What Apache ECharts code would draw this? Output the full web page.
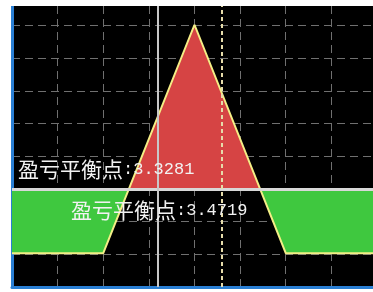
<!DOCTYPE html>
<html>
<head>
<meta charset="utf-8">
<script src="https://cdn.jsdelivr.net/npm/echarts@6/dist/echarts.min.js"></script>
<style>
html, body { margin: 0; padding: 0; background: #fff; }
#wrap { position: absolute; left: 0; top: 6px; width: 373px; height: 286px; overflow: hidden; }
#chart { position: absolute; left: 0; top: -13px; width: 377px; height: 299px; }
</style>
</head>
<body>
<div id="wrap"><div id="chart"></div></div>
<script>
// 标的价格 / 到期损益
var prices = [3.2, 3.3, 3.4, 3.5, 3.6];
var payoff = [-0.0281, -0.0281, 0.0719, -0.0281, -0.0281];
// 盈亏平衡点
var breakEven = [3.3281, 3.4719];
// 竖线：现价(实线)、参考价(点线)
var priceNow = 3.357;
var priceRef = 3.431;

var lineData = prices.map(function (p, i) { return [p, payoff[i]]; });

var labelRich = {
  a: { fontFamily: 'Noto Sans CJK SC', fontSize: 21, fill: '#f2f2f2' },
  b: { fontFamily: 'Liberation Mono', fontSize: 17, fill: '#f2f2f2' }
};

var chart = echarts.init(document.getElementById('chart'));
chart.setOption({
  animation: false,
  grid: {
    left: 12, right: 0, top: 0, bottom: 5,
    show: true, backgroundColor: '#000', borderWidth: 0
  },
  xAxis: {
    type: 'value', min: 3.2, max: 3.6, interval: 0.05,
    axisLine: { show: true, onZero: false, lineStyle: { color: '#2a7fd4', width: 3 } },
    axisTick: { show: false },
    axisLabel: { show: false },
    splitLine: { lineStyle: { color: '#707070', width: 1, type: [8, 5] } }
  },
  yAxis: {
    type: 'value', min: -0.0429, max: 0.0858, interval: 0.0143,
    axisLine: { show: true, onZero: false, lineStyle: { color: '#2a7fd4', width: 3 } },
    axisTick: { show: false },
    axisLabel: { show: false },
    splitLine: { lineStyle: { color: '#707070', width: 1, type: [8, 5] } }
  },
  // 盈利红色、亏损绿色
  visualMap: {
    show: false, type: 'piecewise', seriesIndex: 0, dimension: 1,
    pieces: [
      { gt: 0, lte: 1, color: '#d64444' },
      { gte: -1, lte: 0, color: '#3fc83f' }
    ],
    outOfRange: { color: '#3fc83f' }
  },
  series: [{
    type: 'line',
    data: lineData,
    symbol: 'none',
    lineStyle: { width: 0 },
    areaStyle: { opacity: 1 },
    z: 2,
    markLine: {
      silent: true,
      symbol: 'none',
      label: { show: false },
      data: [
        { yAxis: 0, lineStyle: { color: '#d8d8d8', width: 3, type: 'solid' } },
        { xAxis: priceNow, lineStyle: { color: '#c8c8c8', width: 2, type: 'solid' } },
        { xAxis: priceRef, lineStyle: { color: '#e6dcaa', width: 2, type: [4, 3] } }
      ]
    }
  }, {
    type: 'line',
    data: lineData,
    symbol: 'none',
    lineStyle: { color: '#f4ee86', width: 2 },
    z: 3
  }],
  graphic: [{
    type: 'text', x: 18, y: 176, z: 100,
    style: {
      text: '{a|盈亏平衡点}{b|:' + breakEven[0].toFixed(4) + '}',
      verticalAlign: 'middle',
      rich: labelRich
    }
  }, {
    type: 'text', x: 71, y: 217, z: 100,
    style: {
      text: '{a|盈亏平衡点}{b|:' + breakEven[1].toFixed(4) + '}',
      verticalAlign: 'middle',
      rich: labelRich
    }
  }]
});
</script>
</body>
</html>
